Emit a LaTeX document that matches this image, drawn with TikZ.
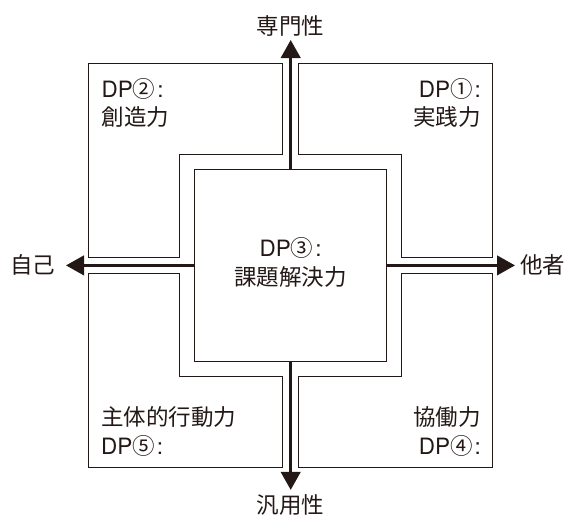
\documentclass[tikz,border=0pt]{standalone}
\usepackage{fontspec}
\setmainfont{Noto Sans CJK JP}
\newfontfamily\latinfont{TeX Gyre Heros}
\newcommand{\dpl}[1]{{\latinfont DP}#1{\latinfont\kern2pt:}}
\usetikzlibrary{arrows.meta}
\definecolor{ink}{RGB}{35,24,21}
\begin{document}
\begin{tikzpicture}[x=1pt,y=-1pt,
  lbox/.style={draw=ink, line width=1.3pt, line join=miter},
  axis/.style={draw=ink, line width=2.6pt, -{Triangle[length=18pt,width=19.5pt]}},
  lbl/.style={font=\fontsize{22.5}{27}\selectfont, text=ink, inner sep=0pt}]
\useasboundingbox (0,0) rectangle (566,517);
\begin{scope}[shift={(290.7,265.4)}]
  \draw[lbox] (-202,-202) -- (-8,-202) -- (-8,-111) -- (-111,-111) -- (-111,-8) -- (-202,-8) -- cycle;
  \draw[lbox] (202,-202) -- (8,-202) -- (8,-111) -- (111,-111) -- (111,-8) -- (202,-8) -- cycle;
  \draw[lbox] (-202,202) -- (-8,202) -- (-8,111) -- (-111,111) -- (-111,8) -- (-202,8) -- cycle;
  \draw[lbox] (202,202) -- (8,202) -- (8,111) -- (111,111) -- (111,8) -- (202,8) -- cycle;
  \node[lbox, minimum width=192pt, minimum height=192pt, inner sep=0pt] (sq) at (0,0) {};
  \coordinate (tN) at (0,-225.4);
  \coordinate (tS) at (0,224.5);
  \coordinate (tW) at (-224.7,0);
  \coordinate (tE) at (224.3,0);
  \draw[axis] (sq.north) -- (tN);
  \draw[axis] (sq.south) -- (tS);
  \draw[axis] (sq.west) -- (tW);
  \draw[axis] (sq.east) -- (tE);
\end{scope}
\node[lbl] (nTop) at (290.7,25.5) {専門性};
\node[lbl] (nBot) at (290.5,505.5) {汎用性};
\node[lbl] (nL) at (32.5,265) {自己};
\node[lbl] (nR) at (542.5,264.5) {他者};
\node[lbl,anchor=base] (c1) at (290.7,256.5) {\dpl{③}};
\node[lbl,anchor=base] (c2) at (290.7,285) {課題解決力};
\node[lbl,anchor=base west] (a1) at (101.5,97.5) {\dpl{②}};
\node[lbl,anchor=base west] (a2) at (101.5,125.5) {創造力};
\node[lbl,anchor=base east] (b1) at (481,97.5) {\dpl{①}};
\node[lbl,anchor=base east] (b2) at (481,125.5) {実践力};
\node[lbl,anchor=base west] (d1) at (101,425.5) {主体的行動力};
\node[lbl,anchor=base west] (d2) at (101,454.5) {\dpl{⑤}};
\node[lbl,anchor=base east] (e1) at (481,425.5) {協働力};
\node[lbl,anchor=base east] (e2) at (481,454.5) {\dpl{④}};
\end{tikzpicture}
\end{document}
